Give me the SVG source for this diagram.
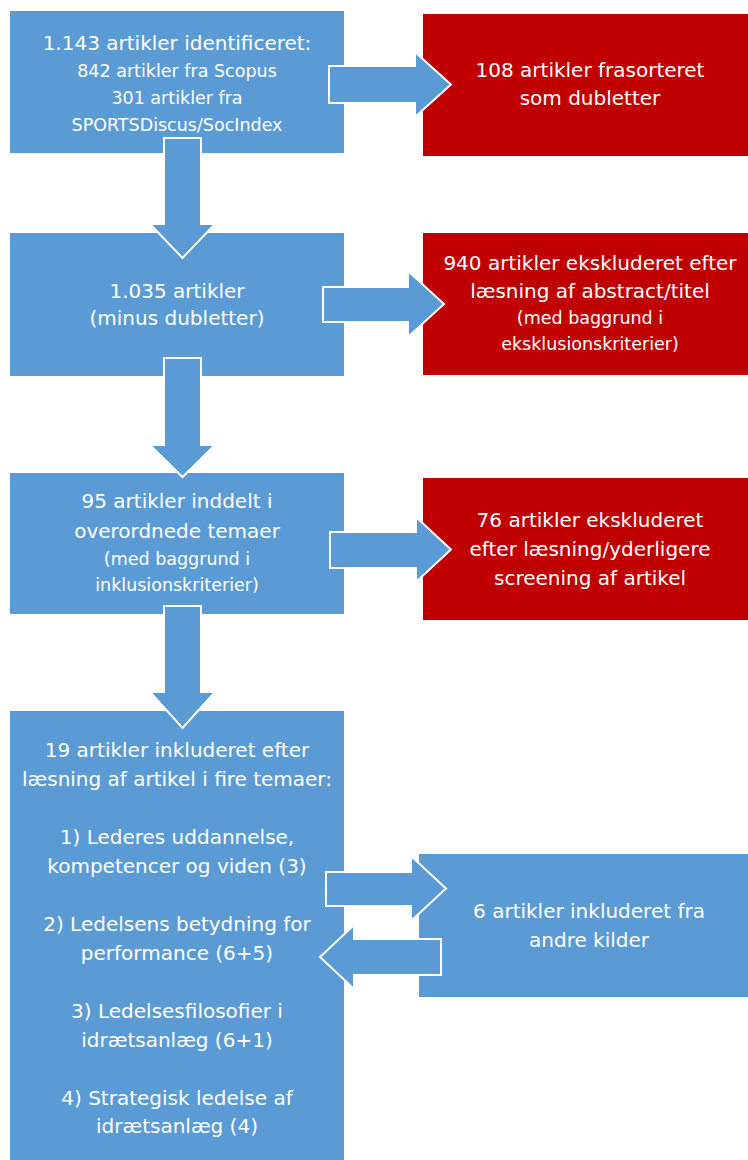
<svg xmlns="http://www.w3.org/2000/svg" width="748" height="1160" viewBox="0 0 748 1160">
<style>
.blue{fill:#5B9BD5}
.red{fill:#C00000}
.arr{fill:#5B9BD5;stroke:#FFFFFF;stroke-width:2}
text{font-family:"DejaVu Sans","Liberation Sans",sans-serif;fill:#FFFFFF;text-anchor:middle}
.l{font-size:20px}
.s{font-size:17.5px}
</style>
<rect width="748" height="1160" fill="#FFFFFF"/>
<g id="n1">
<rect class="blue" x="10" y="11" width="334" height="142"/>
<text class="l" x="177" y="50">1.143 artikler identificeret:</text>
<text class="s" x="177" y="77">842 artikler fra Scopus</text>
<text class="s" x="177" y="104">301 artikler fra</text>
<text class="s" x="177" y="131">SPORTSDiscus/SocIndex</text>
</g>
<g id="r1">
<rect class="red" x="423" y="14" width="335" height="142"/>
<text class="l" x="590" y="77">108 artikler frasorteret</text>
<text class="l" x="590" y="105">som dubletter</text>
</g>
<g id="n2">
<rect class="blue" x="10" y="233" width="334" height="143"/>
<text class="l" x="177" y="298">1.035 artikler</text>
<text class="l" x="177" y="325">(minus dubletter)</text>
</g>
<g id="r2">
<rect class="red" x="423" y="233" width="335" height="142"/>
<text class="l" x="590" y="270">940 artikler ekskluderet efter</text>
<text class="l" x="590" y="298">læsning af abstract/titel</text>
<text class="s" x="590" y="324">(med baggrund i</text>
<text class="s" x="590" y="350">eksklusionskriterier)</text>
</g>
<g id="n3">
<rect class="blue" x="10" y="473" width="334" height="141"/>
<text class="l" x="177" y="508">95 artikler inddelt i</text>
<text class="l" x="177" y="538">overordnede temaer</text>
<text class="s" x="177" y="565">(med baggrund i</text>
<text class="s" x="177" y="591">inklusionskriterier)</text>
</g>
<g id="r3">
<rect class="red" x="423" y="478" width="335" height="142"/>
<text class="l" x="590" y="527">76 artikler ekskluderet</text>
<text class="l" x="590" y="556">efter læsning/yderligere</text>
<text class="l" x="590" y="585">screening af artikel</text>
</g>
<g id="n4">
<rect class="blue" x="10" y="711" width="334" height="452"/>
<text class="l" x="177" y="757">19 artikler inkluderet efter</text>
<text class="l" x="177" y="786">læsning af artikel i fire temaer:</text>
<text class="l" x="177" y="844">1) Lederes uddannelse,</text>
<text class="l" x="177" y="873">kompetencer og viden (3)</text>
<text class="l" x="177" y="931">2) Ledelsens betydning for</text>
<text class="l" x="177" y="960">performance (6+5)</text>
<text class="l" x="177" y="1018">3) Ledelsesfilosofier i</text>
<text class="l" x="177" y="1047">idrætsanlæg (6+1)</text>
<text class="l" x="177" y="1105">4) Strategisk ledelse af</text>
<text class="l" x="177" y="1133">idrætsanlæg (4)</text>
</g>
<g id="n5">
<rect class="blue" x="419" y="854" width="339" height="143"/>
<text class="l" x="589" y="918">6 artikler inkluderet fra</text>
<text class="l" x="589" y="947">andre kilder</text>
</g>
<g id="connectors">
<polygon class="arr" points="164,138 201,138 201,224 215,224 182.5,258 150,224 164,224"/>
<polygon class="arr" points="164,358 201,358 201,445 215,445 182.5,477 150,445 164,445"/>
<polygon class="arr" points="164,606 201,606 201,692 215,692 182.5,728 150,692 164,692"/>
<polygon class="arr" points="329,66 415,66 415,52 451,84.5 415,117 415,103 329,103"/>
<polygon class="arr" points="323,287 408,287 408,271 444,304 408,337 408,322 323,322"/>
<polygon class="arr" points="330,532 416,532 416,517 451,549.5 416,582 416,568 330,568"/>
<polygon class="arr" points="326,872 411,872 411,856 446,888.5 411,921 411,906 326,906"/>
<polygon class="arr" points="441,939 354,939 354,925 320,957 354,989 354,975 441,975"/>
</g>
</svg>
